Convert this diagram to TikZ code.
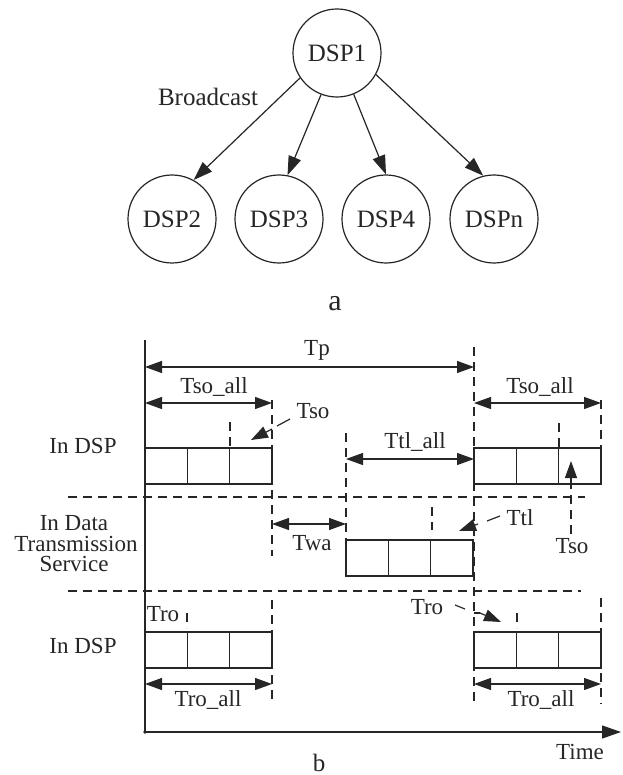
\documentclass[tikz,border=0pt]{standalone}
\usepackage{fontspec}
\setmainfont{Liberation Serif}
\usetikzlibrary{arrows.meta}
\definecolor{ink}{RGB}{38,38,38}
\begin{document}
\begin{tikzpicture}[x=1pt,y=-1pt,
  line/.style={draw=ink,line width=1.2pt},
  dsp/.style={circle,draw=ink,line width=1.2pt,minimum size=88pt,inner sep=0pt,
    text=ink,font=\fontsize{25}{25}\selectfont},
  head/.tip={Triangle[length=17pt,width=12pt]},
  bighead/.tip={Triangle[length=19pt,width=13pt]},
  tip/.style={line,-{head}},
  bigtip/.style={line,-{bighead}},
  span/.style={line,{head}-{head}},
  guide/.style={draw=ink,line width=1.1pt,dash pattern=on 9pt off 6pt},
  lbl/.style={text=ink,inner sep=0pt,anchor=base,font=\fontsize{23}{23}\selectfont},
  lanetxt/.style={lbl,text height=12pt,text depth=0pt},
  pics/slots/.style={code={
    \draw[line] (0,0) rectangle (127,36);
    \draw[line] (42.3,0) -- (42.3,36) (84.7,0) -- (84.7,36);}}
]
\useasboundingbox[fill=white] (0,0) rectangle (622,775);

% ---------- (a) broadcast tree ----------
\node[dsp] (d1) at (337,53) {DSP1};
\node[dsp] (d2) at (172,219) {DSP2};
\node[dsp] (d3) at (279,219) {DSP3};
\node[dsp] (d4) at (386,219) {DSP4};
\node[dsp] (dn) at (494,219) {DSPn};
\draw[bigtip] (d1.214) -- (d2.61);
\draw[bigtip] (d1.249) -- (d3.79);
\draw[bigtip] (d1.292) -- (d4.90);
\draw[bigtip] (d1.331) -- (dn.104);
\node[lbl,font=\fontsize{25}{25}\selectfont] (bc) at (208,106) {Broadcast};
\node[lbl,font=\fontsize{30}{30}\selectfont] (capa) at (335,310) {a};

% ---------- (b) timing diagram ----------
% lane separators
\draw[guide] (68,497) -- (585,497);
\draw[guide] (68,591) -- (581,591);

% dashed time marks
\draw[guide] (272,400) -- (272,556);
\draw[guide] (272,600) -- (272,704);
\draw[guide] (230,422) -- (230,447);
\draw[guide] (346,433) -- (346,540);
\draw[guide] (474,347) -- (474,704);
\draw[guide] (432,507) -- (432,530);
\draw[guide] (559,423) -- (559,447);
\draw[guide] (601,400) -- (601,484);
\draw[guide] (601,598) -- (601,704);
\draw[guide] (187,613) -- (187,628);
\draw[guide] (517,613) -- (517,628);

% slot blocks
\pic at (145,448) {slots};
\pic at (474,448) {slots};
\pic at (346,540) {slots};
\pic at (145,632) {slots};
\pic at (474,632) {slots};

% axes
\coordinate (o) at (145,732);
\coordinate (top) at (145,340);
\coordinate (tend) at (621,732);
\draw[line] (top) -- (o);
\draw[bigtip] (o) -- (tend);
\fill[ink] (o) circle (1.8);

% interval arrows
\coordinate (tpA) at (145,367);  \coordinate (tpB) at (474,367);
\coordinate (s1A) at (145,403);  \coordinate (s1B) at (272,403);
\coordinate (s2A) at (474,403);  \coordinate (s2B) at (601,403);
\coordinate (tlA) at (346,459);  \coordinate (tlB) at (474,459);
\coordinate (waA) at (272,524);  \coordinate (waB) at (346,524);
\coordinate (r1A) at (145,684);  \coordinate (r1B) at (272,684);
\coordinate (r2A) at (474,684);  \coordinate (r2B) at (601,684);
\draw[span] (tpA) -- (tpB);
\draw[span] (s1A) -- (s1B);
\draw[span] (s2A) -- (s2B);
\draw[span] (tlA) -- (tlB);
\draw[span] (waA) -- (waB);
\draw[span] (r1A) -- (r1B);
\draw[span] (r2A) -- (r2B);

% labels
\node[lbl] (tp)   at (317,355) {Tp};
\node[lbl] (tsa1) at (214,393) {Tso\_all};
\node[lbl] (tsa2) at (540,393) {Tso\_all};
\node[lbl] (tso1) at (313,418) {Tso};
\node[lbl] (tla)  at (415,448) {Ttl\_all};
\node[lbl] (twa)  at (312,550) {Twa};
\node[lbl] (ttl)  at (520,525) {Ttl};
\node[lbl] (tso2) at (572,553) {Tso};
\node[lbl] (tro1) at (163,621) {Tro};
\node[lbl] (tro2) at (427,614) {Tro};
\node[lbl] (tra1) at (208,706) {Tro\_all};
\node[lbl] (tra2) at (541,706) {Tro\_all};
\node[lbl] (time) at (580,759) {Time};
\node[lbl,font=\fontsize{25}{25}\selectfont] (capb) at (319,771) {b};
\node[lbl] (lane1) at (83,453) {In DSP};
\node[lbl] (lane3) at (83,653) {In DSP};
\node[lanetxt] (lane2a) at (74,530) {In Data};
\node[lanetxt] (lane2b) at (76,551) {Transmission};
\node[lanetxt] (lane2c) at (74,571) {Service};

% leaders from labels to slots
\coordinate (so1a) at (290,419); \coordinate (so1b) at (277,426);
\coordinate (so1c) at (272,429); \coordinate (so1d) at (251,440);
\draw[line] (so1a) -- (so1b);
\draw[tip] (so1c) -- (so1d);

\coordinate (tla1) at (500,516); \coordinate (tla2) at (487,521);
\coordinate (tla3) at (478,524); \coordinate (tla4) at (459,531);
\draw[line] (tla1) -- (tla2);
\draw[tip] (tla3) -- (tla4);

\coordinate (so2a) at (571,534); \coordinate (so2b) at (571,488);
\coordinate (so2c) at (571,461);
\draw[guide] (so2a) -- (so2b);
\draw[tip] (so2b) -- (so2c);

\coordinate (ro1) at (455,605); \coordinate (ro2) at (465,609);
\coordinate (ro3) at (474,613); \coordinate (ro4) at (480,613);
\coordinate (ro5) at (501,622);
\draw[line] (ro1) -- (ro2);
\draw[line] (ro3) -- (ro4);
\draw[tip] (ro4) -- (ro5);
\end{tikzpicture}
\end{document}
